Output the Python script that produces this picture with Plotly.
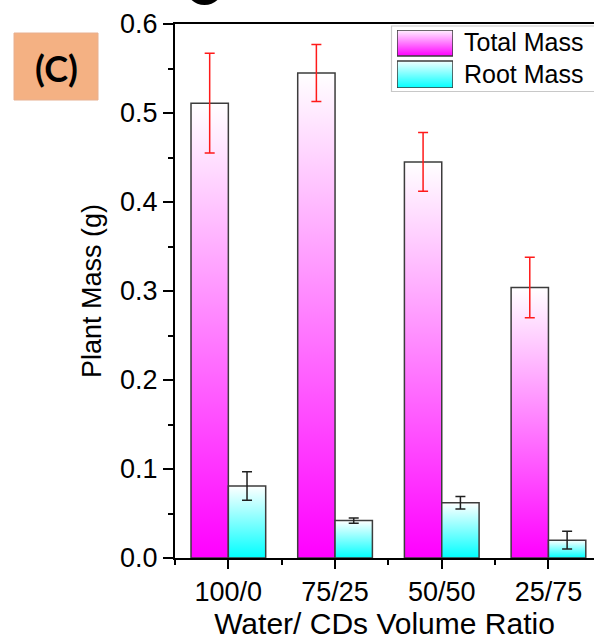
import plotly.graph_objects as go

# ---- data ----
categories = ["100/0", "75/25", "50/50", "25/75"]
total_mass = [0.511, 0.545, 0.445, 0.304]
total_err = [0.056, 0.032, 0.033, 0.034]
root_mass = [0.081, 0.042, 0.062, 0.020]
root_err = [0.016, 0.003, 0.007, 0.010]
series_names = ["Total Mass", "Root Mass"]
y_tick_vals = [0.0, 0.1, 0.2, 0.3, 0.4, 0.5, 0.6]

# ---- style ----
W, H = 594, 640
ML, MR, MT, MB = 175, 0, 24, 82
BAR_W = 0.35
MAGENTA = "#ff00ff"
CYAN = "#00ffff"
OUTLINE = "#3c3c3c"
FONT = "Liberation Sans, Arial, sans-serif"

plot_w = W - ML - MR
plot_h = H - MT - MB


def px_x(px):
    return (px - ML) / plot_w


def px_y(py):
    return (H - MB - py) / plot_h


fig = go.Figure()

series = [
    (total_mass, total_err, MAGENTA, "#ff1a1a", -1),
    (root_mass, root_err, CYAN, "#202020", 1),
]

# bars as gradient-filled rectangles (in data units)
for vals, errs, col, ecol, side in series:
    for i, v in enumerate(vals):
        x0 = i if side > 0 else i - BAR_W
        x1 = i + BAR_W if side > 0 else i
        fig.add_trace(go.Scatter(
            x=[x0, x1, x1, x0, x0], y=[0, 0, v, v, 0],
            mode="lines", fill="toself",
            fillgradient=dict(type="vertical",
                              colorscale=[[0, col], [1, "#ffffff"]]),
            line=dict(color=OUTLINE, width=1.5),
            hoverinfo="skip", showlegend=False,
        ))

# error bars
for vals, errs, col, ecol, side in series:
    xs = [i + side * BAR_W / 2 for i in range(len(vals))]
    fig.add_trace(go.Scatter(
        x=xs, y=vals, mode="markers",
        marker=dict(size=1, color="rgba(0,0,0,0)"),
        error_y=dict(type="data", array=errs, visible=True,
                     color=ecol, thickness=1.5, width=5),
        hoverinfo="skip", showlegend=False,
    ))

# custom legend swatches on an auxiliary axis pair
leg_x0, leg_x1 = 397, 453
leg_ytop, leg_ybot = 30, 88
swatches = [(MAGENTA, 30, 56), (CYAN, 61, 88)]
for col, t, b in swatches:
    y_lo, y_hi = leg_ybot - b, leg_ybot - t
    fig.add_trace(go.Scatter(
        x=[0, 1, 1, 0, 0], y=[y_lo, y_lo, y_hi, y_hi, y_lo],
        xaxis="x2", yaxis="y2", mode="lines", fill="toself",
        fillgradient=dict(type="vertical",
                          colorscale=[[0, col], [1, "#fff2ff" if col == MAGENTA else "#f2ffff"]]),
        line=dict(color=OUTLINE, width=1.5),
        hoverinfo="skip", showlegend=False,
    ))

annotations = [
    dict(xref="paper", yref="paper", x=px_x(462), y=px_y(42),
         text=series_names[0], showarrow=False, xanchor="left", yanchor="middle",
         font=dict(family=FONT, size=25, color="black")),
    dict(xref="paper", yref="paper", x=px_x(462), y=px_y(74),
         text=series_names[1], showarrow=False, xanchor="left", yanchor="middle",
         font=dict(family=FONT, size=25, color="black")),
    dict(xref="paper", yref="paper", x=px_x(56), y=px_y(68),
         text="<b>(C)</b>", showarrow=False, xanchor="center", yanchor="middle",
         font=dict(family="Lato, Open Sans, sans-serif", size=36, color="black")),
]

shapes = [
    # legend frame
    dict(type="rect", xref="paper", yref="paper",
         x0=px_x(391.5), x1=px_x(600), y0=px_y(91.5), y1=px_y(26),
         line=dict(color="#c8c8c8", width=1.2), fillcolor="rgba(0,0,0,0)", layer="below"),
    # panel label box
    dict(type="rect", xref="paper", yref="paper",
         x0=px_x(14), x1=px_x(98), y0=px_y(100), y1=px_y(33),
         line=dict(color="#e8b090", width=1), fillcolor="#f4b183", layer="below"),
    # cropped glyph from the figure above
    dict(type="circle", xref="paper", yref="paper",
         x0=px_x(186), x1=px_x(223), y0=px_y(5), y1=px_y(-30),
         line=dict(color="black", width=0), fillcolor="black"),
]

fig.update_layout(
    width=W, height=H,
    margin=dict(l=ML, r=MR, t=MT, b=MB, autoexpand=False),
    paper_bgcolor="white", plot_bgcolor="white",
    font=dict(family=FONT, color="black"),
    showlegend=False,
    annotations=annotations,
    shapes=shapes,
    xaxis=dict(
        range=[-0.5, -0.5 + plot_w / 106.7],
        tickmode="array", tickvals=list(range(len(categories))), ticktext=categories,
        ticks="outside", ticklen=9, tickwidth=2, tickcolor="black",
        minor=dict(dtick=0.5, tick0=0, ticks="outside", ticklen=5, tickwidth=2, tickcolor="black"),
        showline=True, linecolor="black", linewidth=2, mirror=True,
        showgrid=False, zeroline=False, automargin=False,
        tickfont=dict(size=27),
        title=dict(text="Water/ CDs Volume Ratio", font=dict(size=30), standoff=15),
        fixedrange=True,
    ),
    yaxis=dict(
        range=[0, 0.6],
        tickmode="array", tickvals=y_tick_vals, tickformat=".1f",
        ticks="outside", ticklen=10, tickwidth=2, tickcolor="black",
        minor=dict(dtick=0.05, tick0=0, ticks="outside", ticklen=5, tickwidth=2, tickcolor="black"),
        showline=True, linecolor="black", linewidth=2,
        showgrid=False, zeroline=False, automargin=False,
        tickfont=dict(size=27),
        title=dict(text="Plant Mass (g)", font=dict(size=27), standoff=11),
        fixedrange=True,
    ),
    xaxis2=dict(domain=[px_x(leg_x0), px_x(leg_x1)], range=[0, 1], visible=False,
                anchor="y2", fixedrange=True),
    yaxis2=dict(domain=[px_y(leg_ybot), px_y(leg_ytop)], range=[0, leg_ybot - leg_ytop],
                visible=False, anchor="x2", fixedrange=True),
)

fig.write_html(
    "out.html",
    config={"displayModeBar": False},
    post_script="document.body.style.margin='0';document.body.style.overflow='hidden';",
)
